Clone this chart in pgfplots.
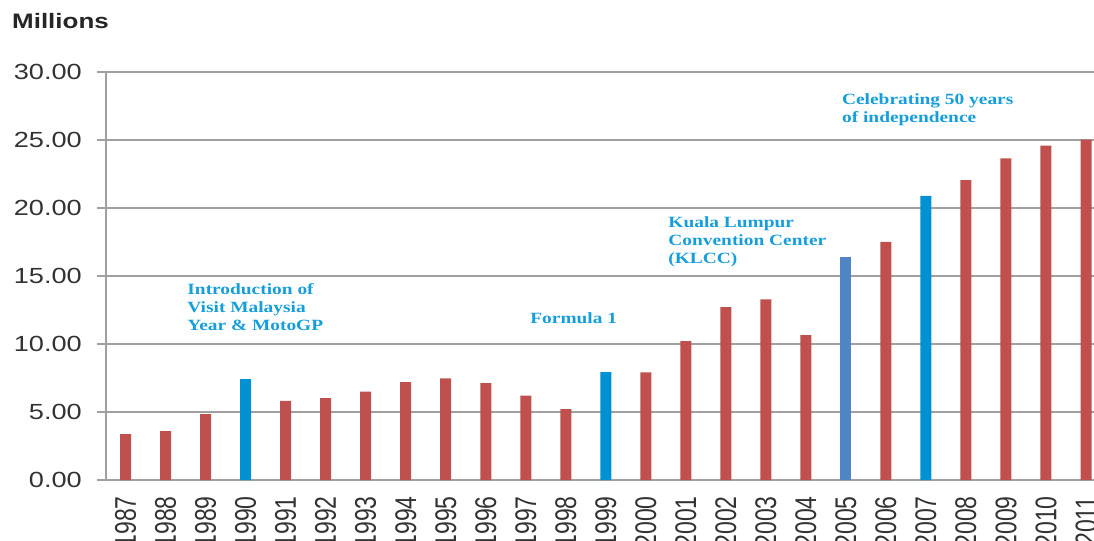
\documentclass[border=0pt]{standalone}
\usepackage{fontspec}
\setmainfont{Liberation Sans}
\newfontfamily\stretchsans{Liberation Sans}[FakeStretch=1.24]
\newfontfamily\yearfont{Liberation Sans}[FakeStretch=0.77]
\newfontfamily\annfont{Liberation Serif}[FakeStretch=1.24]
\usepackage{pgfplots}
\pgfplotsset{compat=1.18}
\definecolor{barred}{RGB}{192,80,77}
\definecolor{barblue}{RGB}{0,145,212}
\definecolor{barsteel}{RGB}{79,133,196}
\definecolor{anncol}{RGB}{22,158,218}
\definecolor{gridgray}{RGB}{160,160,160}
\definecolor{txtgray}{RGB}{51,51,51}
\begin{document}
\begin{tikzpicture}
\begin{axis}[
  name=ax,
  anchor=south west,
  at={(0,0)},
  scale only axis,
  width=988bp, height=408bp,
  xmin=-0.49, xmax=24.2,
  ymin=0, ymax=30,
  axis x line*=bottom, axis y line*=left,
  axis line style={draw=gridgray, line width=1.1bp, -},
  ymajorgrids,
  grid style={draw=gridgray, line width=1.1bp},
  ytick={0,5,10,15,20,25,30},
  tick align=outside,
  major tick length=9bp,
  ytick style={draw=gridgray, line width=1.1bp},
  xtick style={draw=none},
  xtick={0,...,24},
  xticklabels={1987,1988,1989,1990,1991,1992,1993,1994,1995,1996,1997,1998,1999,2000,2001,2002,2003,2004,2005,2006,2007,2008,2009,2010,2011},
  xticklabel style={yshift=-7bp, rotate=90, anchor=east, inner sep=0pt, font=\yearfont\fontsize{30}{30}\selectfont, text=txtgray},
  yticklabel style={/pgf/number format/.cd, fixed, fixed zerofill, precision=2, assume math mode=true, /tikz/.cd, xshift=-15bp, font=\stretchsans\fontsize{22}{22}\selectfont, text=txtgray, inner sep=0pt},
  ybar, bar width=11bp,
  clip=true,
]
\addplot[fill=barred, draw=none, bar shift=0pt] coordinates {
(0,3.38) (1,3.60) (2,4.85) (4,5.82) (5,6.02) (6,6.50) (7,7.19) (8,7.47) (9,7.13) (10,6.20) (11,5.21) (13,7.92) (14,10.22) (15,12.72) (16,13.29) (17,10.66) (19,17.50) (21,22.05) (22,23.65) (23,24.58) (24,25.03)};
\addplot[fill=barblue, draw=none, bar shift=0pt] coordinates {(3,7.42) (12,7.93) (20,20.89)};
\addplot[fill=barsteel, draw=none, bar shift=0pt] coordinates {(18,16.43)};
\node[anchor=north west, inner sep=0pt, align=left, text=anncol, font=\annfont\bfseries\fontsize{15.7}{18}\selectfont] at (axis cs:1.54,14.45) {Introduction of\\Visit Malaysia\\Year \& MotoGP};
\node[anchor=west, inner sep=0pt, text=anncol, font=\annfont\bfseries\fontsize{15.7}{18}\selectfont] at (axis cs:10.11,11.9) {Formula 1};
\node[anchor=north west, inner sep=0pt, align=left, text=anncol, font=\annfont\bfseries\fontsize{15.7}{18}\selectfont] at (axis cs:13.56,19.4) {Kuala Lumpur\\Convention Center\\(KLCC)};
\node[anchor=north west, inner sep=0pt, align=left, text=anncol, font=\annfont\bfseries\fontsize{15.7}{18}\selectfont] at (axis cs:17.9,28.4) {Celebrating 50 years\\of independence};
\end{axis}
\node[anchor=north west, inner sep=0pt, font=\stretchsans\bfseries\fontsize{21}{21}\selectfont, text=black!85] at ([xshift=-94bp, yshift=467bp]ax.south west) {Millions};
\pgfresetboundingbox
\useasboundingbox ([xshift=-106bp, yshift=-61bp]ax.south west) rectangle ([xshift=988bp, yshift=480bp]ax.south west);
\end{tikzpicture}
\end{document}
